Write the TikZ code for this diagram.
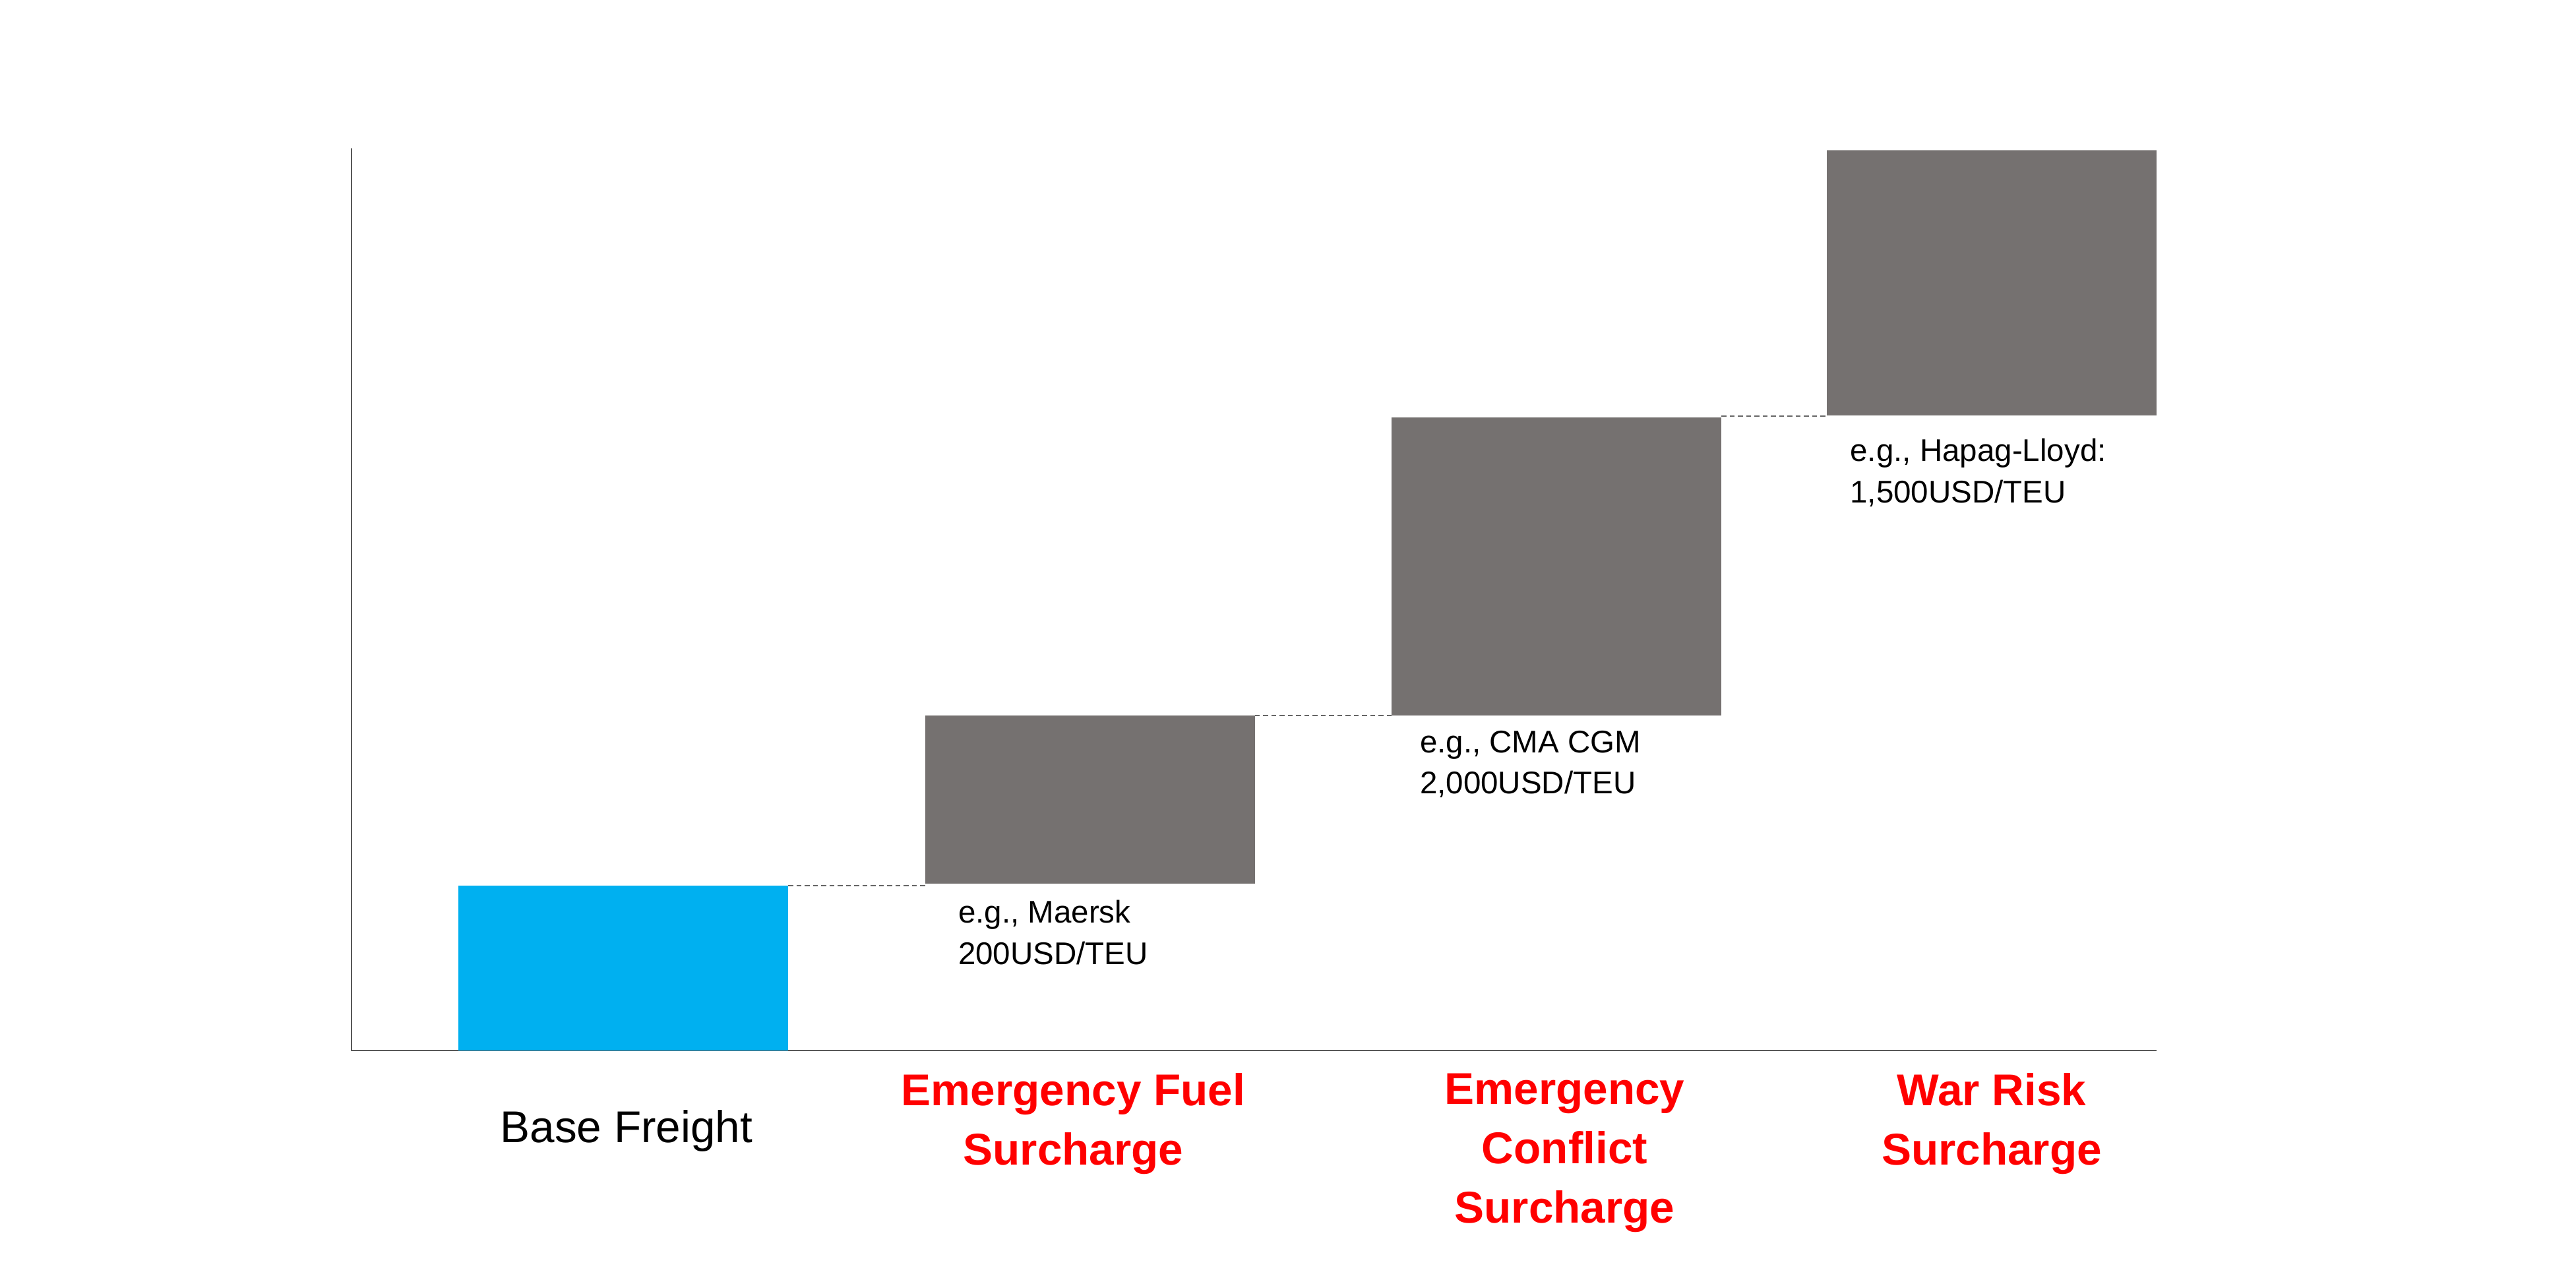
\documentclass[tikz,border=0pt]{standalone}
\usepackage{fontspec}
\setmainfont{Liberation Sans}
\definecolor{bargray}{RGB}{117,113,112}
\definecolor{barblue}{RGB}{0,176,240}
\definecolor{lblred}{RGB}{255,0,0}
\begin{document}
\begin{tikzpicture}[x=1pt,y=-1pt,
  bar/.style={fill=bargray,draw=none},
  conn/.style={densely dashed,draw=gray!80!black,line width=0.8pt},
  note/.style={anchor=north west,align=left,font=\fontsize{19}{25}\selectfont,inner sep=0},
  cat/.style={align=center,font=\fontsize{27}{36}\selectfont\bfseries,text=lblred,inner sep=0}]
\fill[white] (0,0) rectangle (1562.4,774.8);
\draw[gray!70!black,line width=0.8pt] (213,90) -- (213,637) -- (1308,637);
\fill[barblue] (278,537) rectangle (478,637);
\fill[bargray] (561,434) rectangle (761,536);
\fill[bargray] (844,253) rectangle (1044,434);
\fill[bargray] (1108,91) rectangle (1308,252);
\coordinate (b1) at (478,537); \coordinate (b2a) at (561,537);
\coordinate (b2) at (761,434); \coordinate (b3a) at (844,434);
\coordinate (b3) at (1044,252.5); \coordinate (b4a) at (1108,252.5);
\draw[conn] (b1) -- (b2a);
\draw[conn] (b2) -- (b3a);
\draw[conn] (b3) -- (b4a);
\node[note] (n1) at (581,546) {e.g., Maersk\\200USD/TEU};
\node[note] (n2) at (861,443) {e.g., CMA CGM\\2,000USD/TEU};
\node[note] (n3) at (1122,266) {e.g., Hapag-Lloyd:\\1,500USD/TEU};
\node[font=\fontsize{27}{36}\selectfont,inner sep=0] (c1) at (380,686) {Base Freight};
\node[cat,anchor=north] (c2) at (651,651) {Emergency Fuel\\Surcharge};
\node[cat,anchor=north] (c3) at (949,651) {Emergency\\Conflict\\Surcharge};
\node[cat,anchor=north] (c4) at (1208,651) {War Risk\\Surcharge};
\end{tikzpicture}
\end{document}
